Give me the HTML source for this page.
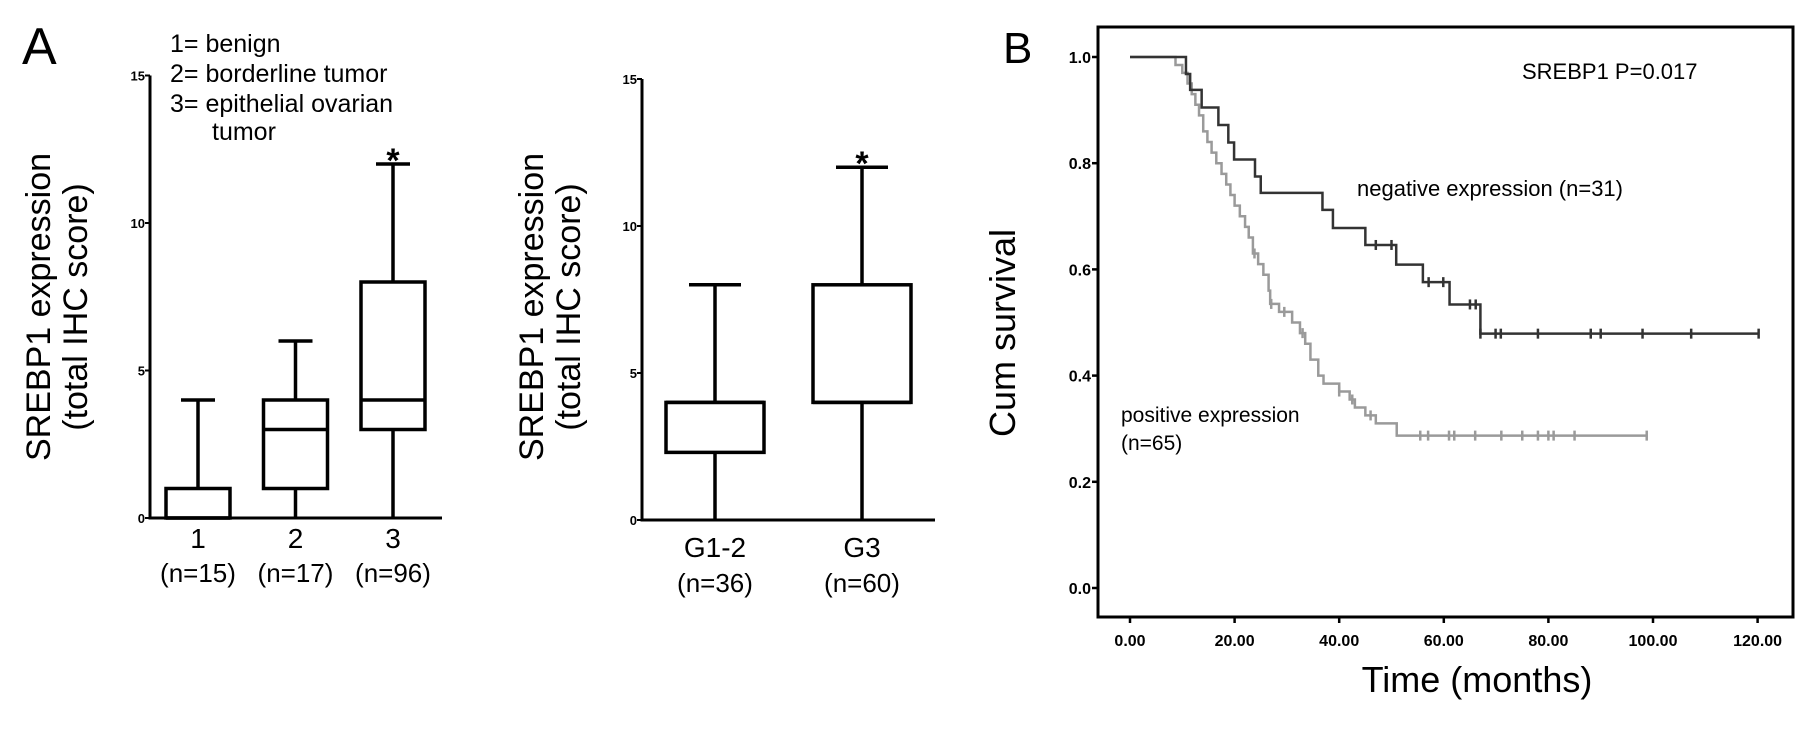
<!DOCTYPE html>
<html><head><meta charset="utf-8"><style>
html,body{margin:0;padding:0;background:#fff;}
svg{display:block;font-family:"Liberation Sans",Arial,sans-serif;}
</style></head><body>
<svg id="fig" width="1819" height="731" viewBox="0 0 1819 731" xmlns="http://www.w3.org/2000/svg">
<text x="22" y="64" font-size="52">A</text>
<text x="1003" y="63" font-size="44">B</text>
<g font-size="25">
<text x="170" y="52">1= benign</text>
<text x="170" y="82">2= borderline tumor</text>
<text x="170" y="112">3= epithelial ovarian</text>
<text x="212" y="140">tumor</text>
</g>
<g id="boxL"></g>
<g id="boxM"></g>
<g id="km"></g>
</svg>
<script>
// Box plot data: [min, q1, median, q3, max]
const catsL = ["1","2","3"];
const nL = ["(n=15)","(n=17)","(n=96)"];
const statsL = [[0,0,0,1,4],[0,1,3,4,6],[0,3,4,8,12]];
const starL = [false,false,true];
const catsM = ["G1-2","G3"];
const nM = ["(n=36)","(n=60)"];
const statsM = [[0,2.3,4,4,8],[0,4,4,8,12]];
const starM = [false,true];
const yTicksBox = [0,5,10,15];

// KM data
const negTimes = [0,10.7,11.5,13.7,16.9,18.8,19.9,23.9,25.0,36.8,38.8,45.0,50.9,56.0,61.1,67.0,120.2];
const negSurv  = [1,0.968,0.938,0.905,0.872,0.839,0.807,0.775,0.744,0.712,0.678,0.646,0.609,0.576,0.534,0.479,0.479];
const negCens = [47,50,57.1,59.9,65,66.1,67,69.9,70.9,78,88.1,90,98,107.3,120.2];
const posTimes = [0,8.7,10,11,11.8,12.5,13.2,14,14.8,15.6,16.5,17.5,18.4,19.2,20,21,22,22.7,23.5,24.5,25.5,26.5,26.8,28.5,31,32.5,33.5,34.5,36,37,40,42,43,45,47,51,98.8];
const posSurv  = [1,0.985,0.97,0.95,0.93,0.91,0.89,0.86,0.84,0.82,0.80,0.78,0.76,0.74,0.72,0.70,0.68,0.66,0.63,0.61,0.59,0.56,0.535,0.52,0.50,0.48,0.46,0.43,0.40,0.385,0.37,0.355,0.34,0.325,0.31,0.287,0.287];
const posCens = [23.8,27,29.5,33,40,42.5,46,55.5,57,61,62,66,71,75,78,80,81,85,98.8];
const kmXTicks = [0,20,40,60,80,100,120];
const kmXLabels = ["0.00","20.00","40.00","60.00","80.00","100.00","120.00"];
const kmYTicks = [0,0.2,0.4,0.6,0.8,1.0];
const kmYLabels = ["0.0","0.2","0.4","0.6","0.8","1.0"];

const NS="http://www.w3.org/2000/svg";
function mk(parent,tag,attrs,txt){const e=document.createElementNS(NS,tag);for(const k in attrs)e.setAttribute(k,attrs[k]);if(txt!==undefined)e.textContent=txt;parent.appendChild(e);return e;}

function boxPlot(g, cats, ns, stats, stars, ax){
  const y=v=>ax.y0-v*ax.k;
  let a=mk(g,'line',{x1:ax.x,y1:y(15),x2:ax.x,y2:y(0)+1.5,stroke:'#000','stroke-width':3});
  
  
  a=mk(g,'line',{x1:ax.x-1.5,y1:y(0),x2:ax.xEnd,y2:y(0),stroke:'#000','stroke-width':3});
  
  
  yTicksBox.forEach(t=>{
    const l=mk(g,'line',{x1:ax.x-5,y1:y(t),x2:ax.x,y2:y(t),stroke:'#000','stroke-width':2});
    
    
    const tx=mk(g,'text',{x:ax.x-5,y:y(t)+5,'font-size':13,'font-weight':'bold','text-anchor':'end'},String(t));
    
    
  });
  const tl=mk(g,'text',{transform:`translate(${ax.tx},${ax.ty}) rotate(-90)`,'font-size':34,'text-anchor':'middle'});
  
  
  mk(tl,'tspan',{x:0,y:0},'SREBP1 expression');
  mk(tl,'tspan',{x:0,y:37},'(total IHC score)');
  cats.forEach((c,i)=>{
    const cx=ax.c0+i*ax.step, s=stats[i], hw=ax.bw/2, cw=ax.cw/2;
    const bg=mk(g,'g',{});
    
    
    const st={stroke:'#000','stroke-width':3.5,fill:'none'};
    mk(bg,'line',Object.assign({x1:cx,y1:y(s[0]),x2:cx,y2:y(s[1])},st));
    mk(bg,'line',Object.assign({x1:cx,y1:y(s[3]),x2:cx,y2:y(s[4])},st));
    mk(bg,'line',Object.assign({x1:cx-cw,y1:y(s[4]),x2:cx+cw,y2:y(s[4])},st));
    mk(bg,'rect',Object.assign({x:cx-hw,y:y(s[3]),width:ax.bw,height:Math.max(0,y(s[1])-y(s[3]))},st));
    mk(bg,'line',Object.assign({x1:cx-hw,y1:y(s[2]),x2:cx+hw,y2:y(s[2])},st));
    const lb=mk(g,'text',{x:cx,y:ax.labY,'font-size':28,'text-anchor':'middle'},c);
    
    
    const nl=mk(g,'text',{x:cx,y:ax.nY,'font-size':26,'text-anchor':'middle'},ns[i]);
    
    
    if(stars[i]){const sa=mk(g,'text',{x:cx,y:y(s[4])+8,'font-size':34,'font-weight':'bold','text-anchor':'middle'},'*');
      
      }
  });
}
boxPlot(document.getElementById('boxL'),catsL,nL,statsL,starL,{x:150,xEnd:442,y0:518,k:29.5,c0:198,step:97.5,bw:64,cw:34,tx:50,ty:307,labY:548,nY:582});
boxPlot(document.getElementById('boxM'),catsM,nM,statsM,starM,{x:642,xEnd:935,y0:520,k:29.4,c0:715,step:147,bw:98,cw:52,tx:543,ty:307,labY:557,nY:592});

// KM
const km=document.getElementById('km');
const X=t=>1130+t*5.23, Y=s=>588-s*531;
const fr=mk(km,'rect',{x:1098,y:27,width:695,height:590,fill:'none',stroke:'#000','stroke-width':3});


kmYTicks.forEach((t,i)=>{
  const l=mk(km,'line',{x1:1092,y1:Y(t),x2:1098,y2:Y(t),stroke:'#000','stroke-width':2.5});
  
  
  const tx=mk(km,'text',{x:1091,y:Y(t)+6,'font-size':16,'font-weight':'bold','text-anchor':'end'},kmYLabels[i]);
  
  
});
kmXTicks.forEach((t,i)=>{
  const l=mk(km,'line',{x1:X(t),y1:617,x2:X(t),y2:623,stroke:'#000','stroke-width':2.5});
  
  
  const tx=mk(km,'text',{x:X(t),y:646,'font-size':16,'font-weight':'bold','text-anchor':'middle'},kmXLabels[i]);
  
  
});
function step(times,surv){let d=`M${X(times[0])},${Y(surv[0])}`;for(let i=1;i<times.length;i++){d+=` H${X(times[i])} V${Y(surv[i])}`;}return d;}
function survAt(times,surv,t){let s=surv[0];for(let i=0;i<times.length;i++){if(times[i]<=t+1e-9)s=surv[i];}return s;}
function curve(times,surv,cens,color,name){
  const p=mk(km,'path',{d:step(times,surv),fill:'none',stroke:color,'stroke-width':2.5});
  
  
  cens.forEach(t=>{
    const c=mk(km,'line',{x1:X(t),y1:Y(survAt(times,surv,t))-5,x2:X(t),y2:Y(survAt(times,surv,t))+5,stroke:color,'stroke-width':2.5});
    
    
  });
}
curve(posTimes,posSurv,posCens,'#9a9a9a','positive-expression-curve');
curve(negTimes,negSurv,negCens,'#333','negative-expression-curve');
const texts=[
  [1522,79,22,'start','SREBP1  P=0.017','p-value-label'],
  [1357,196,22,'start','negative expression (n=31)','negative-curve-label'],
  [1121,422,21,'start','positive expression','positive-curve-label'],
  [1121,450,21,'start','(n=65)','positive-curve-n-label'],
  [1477,692,36,'middle','Time (months)','x-axis-title']
];
texts.forEach(a=>{
  const t=mk(km,'text',{x:a[0],y:a[1],'font-size':a[2],'text-anchor':a[3]},a[4]);
  
  
});
const yt=mk(km,'text',{transform:'translate(1015,333) rotate(-90)','font-size':36,'text-anchor':'middle'},'Cum survival');


</script>
</body></html>
